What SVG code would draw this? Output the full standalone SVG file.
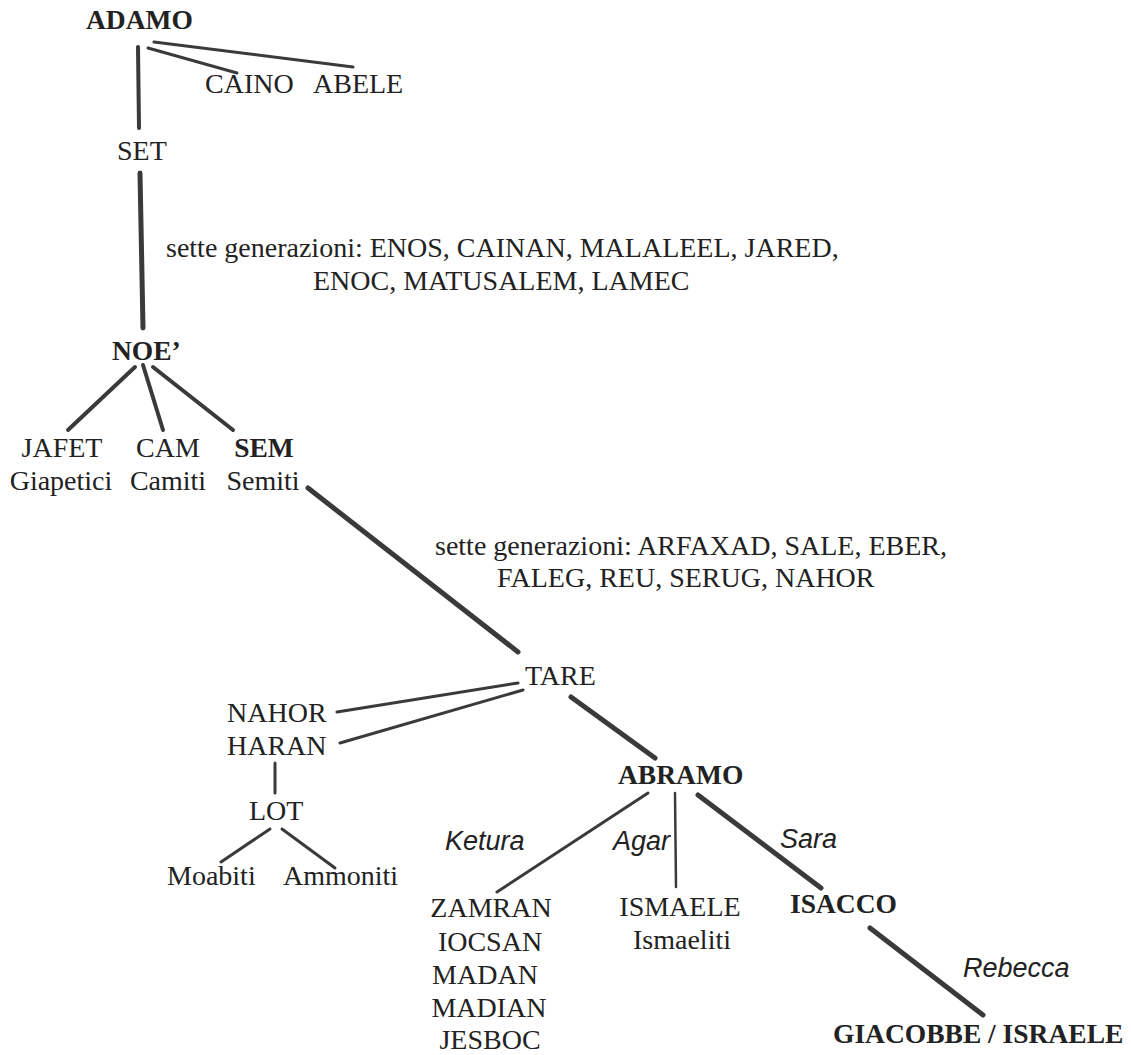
<svg xmlns="http://www.w3.org/2000/svg" width="1131" height="1055" viewBox="0 0 1131 1055">
<style>
.n{font-family:"Liberation Serif","Times New Roman",serif;font-size:28px;fill:#222}
.b{font-family:"Liberation Serif","Times New Roman",serif;font-size:27.5px;font-weight:bold;fill:#222}
.i{font-family:"Liberation Sans",Arial,sans-serif;font-size:27px;font-style:italic;fill:#222}
#connectors line{stroke:#3a3a3a;stroke-linecap:round;fill:none}
.w5{stroke-width:5}
.w4{stroke-width:4}
.w3{stroke-width:3}
.w2{stroke-width:2.5}
</style>
<rect width="1131" height="1055" fill="#fff"/>
<g id="connectors">
<line class="w4" x1="138" y1="47" x2="139" y2="128"/>
<line class="w3" x1="148" y1="48" x2="237" y2="73"/>
<line class="w3" x1="154" y1="42" x2="353" y2="67"/>
<line class="w5" x1="140" y1="173" x2="143" y2="328"/>
<line class="w4" x1="135" y1="367" x2="68" y2="430"/>
<line class="w4" x1="143" y1="365" x2="163" y2="430"/>
<line class="w4" x1="153" y1="367" x2="233" y2="430"/>
<line class="w5" x1="308" y1="488" x2="518" y2="652"/>
<line class="w3" x1="337" y1="712" x2="518" y2="683"/>
<line class="w3" x1="340" y1="743" x2="523" y2="690"/>
<line class="w3" x1="275" y1="763" x2="275" y2="793"/>
<line class="w3" x1="270" y1="829" x2="221" y2="862"/>
<line class="w3" x1="282" y1="829" x2="335" y2="868"/>
<line class="w5" x1="571" y1="697" x2="655" y2="758"/>
<line class="w3" x1="648" y1="793" x2="497" y2="892"/>
<line class="w2" x1="675" y1="793" x2="676" y2="887"/>
<line class="w5" x1="698" y1="795" x2="821" y2="888"/>
<line class="w5" x1="870" y1="928" x2="983" y2="1015"/>
</g>
<g id="adamo"><text class="b" x="86" y="29">ADAMO</text></g>
<g id="caino"><text class="n" x="205" y="93">CAINO</text></g>
<g id="abele"><text class="n" x="313" y="93">ABELE</text></g>
<g id="set"><text class="n" x="117" y="160">SET</text></g>
<g id="gen1">
<text class="n" x="166" y="257">sette generazioni: ENOS, CAINAN, MALALEEL, JARED,</text>
<text class="n" x="313" y="290">ENOC, MATUSALEM, LAMEC</text>
</g>
<g id="noe"><text class="b" x="112" y="360">NOE’</text></g>
<g id="jafet"><text class="n" x="62" y="457" text-anchor="middle">JAFET</text><text class="n" x="61" y="490" text-anchor="middle">Giapetici</text></g>
<g id="cam"><text class="n" x="168" y="457" text-anchor="middle">CAM</text><text class="n" x="168" y="490" text-anchor="middle">Camiti</text></g>
<g id="sem"><text class="b" x="264" y="457" text-anchor="middle">SEM</text><text class="n" x="263" y="490" text-anchor="middle">Semiti</text></g>
<g id="gen2">
<text class="n" x="435" y="555">sette generazioni: ARFAXAD, SALE, EBER,</text>
<text class="n" x="497" y="587">FALEG, REU, SERUG, NAHOR</text>
</g>
<g id="tare"><text class="n" x="525" y="685">TARE</text></g>
<g id="nahor"><text class="n" x="227" y="722">NAHOR</text></g>
<g id="haran"><text class="n" x="227" y="755">HARAN</text></g>
<g id="lot"><text class="n" x="249" y="820">LOT</text></g>
<g id="moabiti"><text class="n" x="167" y="885">Moabiti</text></g>
<g id="ammoniti"><text class="n" x="283" y="885">Ammoniti</text></g>
<g id="abramo"><text class="b" x="618" y="784">ABRAMO</text></g>
<g id="labels">
<text class="i" x="445" y="850">Ketura</text>
<text class="i" x="613" y="850">Agar</text>
<text class="i" x="780" y="848">Sara</text>
<text class="i" x="963" y="977">Rebecca</text>
</g>
<g id="ketura-sons">
<text class="n" x="491" y="917" text-anchor="middle">ZAMRAN</text>
<text class="n" x="490" y="951" text-anchor="middle">IOCSAN</text>
<text class="n" x="485" y="984" text-anchor="middle">MADAN</text>
<text class="n" x="489" y="1017" text-anchor="middle">MADIAN</text>
<text class="n" x="490" y="1049" text-anchor="middle">JESBOC</text>
</g>
<g id="ismaele"><text class="n" x="680" y="916" text-anchor="middle">ISMAELE</text><text class="n" x="682" y="949" text-anchor="middle">Ismaeliti</text></g>
<g id="isacco"><text class="b" x="790" y="913">ISACCO</text></g>
<g id="giacobbe"><text class="b" x="833" y="1043">GIACOBBE / ISRAELE</text></g>
</svg>
